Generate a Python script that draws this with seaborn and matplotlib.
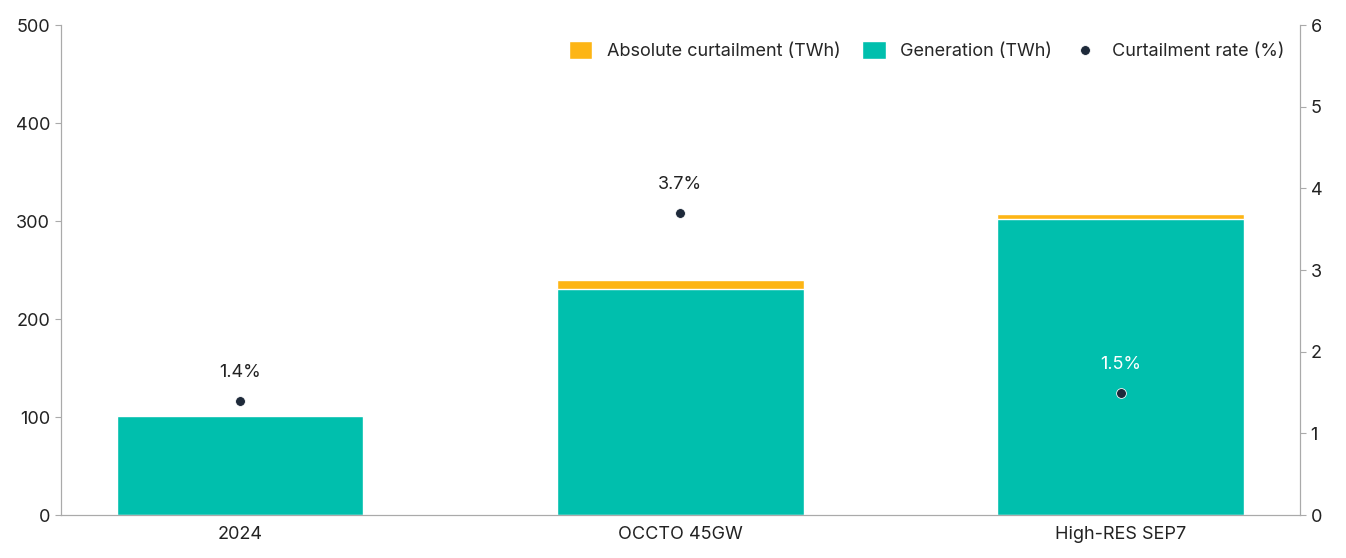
import matplotlib
matplotlib.use("Agg")
import matplotlib.pyplot as plt
import seaborn as sns
import pandas as pd

scenarios = ["2024", "OCCTO 45GW", "High-RES SEP7"]
generation = [101, 231, 302]
curtailment = [1.4, 9, 5]
rate = [1.4, 3.7, 1.5]

sns.set_style("white")
plt.rcParams["font.family"] = ["Inter", "DejaVu Sans"]

GREEN = "#00bfad"
YELLOW = "#fdb515"
DARK = "#1e2a3a"

df = pd.DataFrame({"scenario": scenarios, "gen": generation,
                   "total": [g + c for g, c in zip(generation, curtailment)]})

fig, ax = plt.subplots(figsize=(13.46, 5.58), dpi=100)
fig.subplots_adjust(left=0.045, right=0.966, top=0.955, bottom=0.077)

sns.barplot(data=df, x="scenario", y="total", color=YELLOW, width=0.56,
            saturation=1, ax=ax, label="Absolute curtailment (TWh)")
sns.barplot(data=df, x="scenario", y="gen", color=GREEN, width=0.56,
            saturation=1, ax=ax, label="Generation (TWh)")
ax.set_ylim(0, 500)
ax.set_yticks(range(0, 501, 100))
ax.set_xlabel("")
ax.set_ylabel("")

ax2 = ax.twinx()
sns.scatterplot(x=range(len(scenarios)), y=rate, color=DARK, s=50, ax=ax2,
                label="Curtailment rate (%)", legend=False, zorder=5)
ax2.set_ylim(0, 6)
ax2.set_yticks(range(7))
for i, r in enumerate(rate):
    col = "white" if r * 500 / 6 < generation[i] else "#222222"
    ax2.annotate(f"{r}%", (i, r), xytext=(0, 14), textcoords="offset points",
                 ha="center", va="bottom", fontsize=13, color=col)

for a in (ax, ax2):
    a.spines["top"].set_visible(False)
    for s in ("left", "right", "bottom"):
        a.spines[s].set_color("#aaaaaa")
    a.tick_params(labelsize=13, colors="#222222", length=4, color="#aaaaaa")
ax.tick_params(axis="x", length=0, pad=8)

h1, l1 = ax.get_legend_handles_labels()
h2, l2 = ax2.get_legend_handles_labels()
ax.legend(h1 + h2, l1 + l2, loc="upper right", ncol=3, frameon=False,
          fontsize=13, handlelength=1.3, handleheight=1.1, columnspacing=1.2,
          bbox_to_anchor=(1.0, 1.0))

fig.savefig("out.png", dpi=100)
